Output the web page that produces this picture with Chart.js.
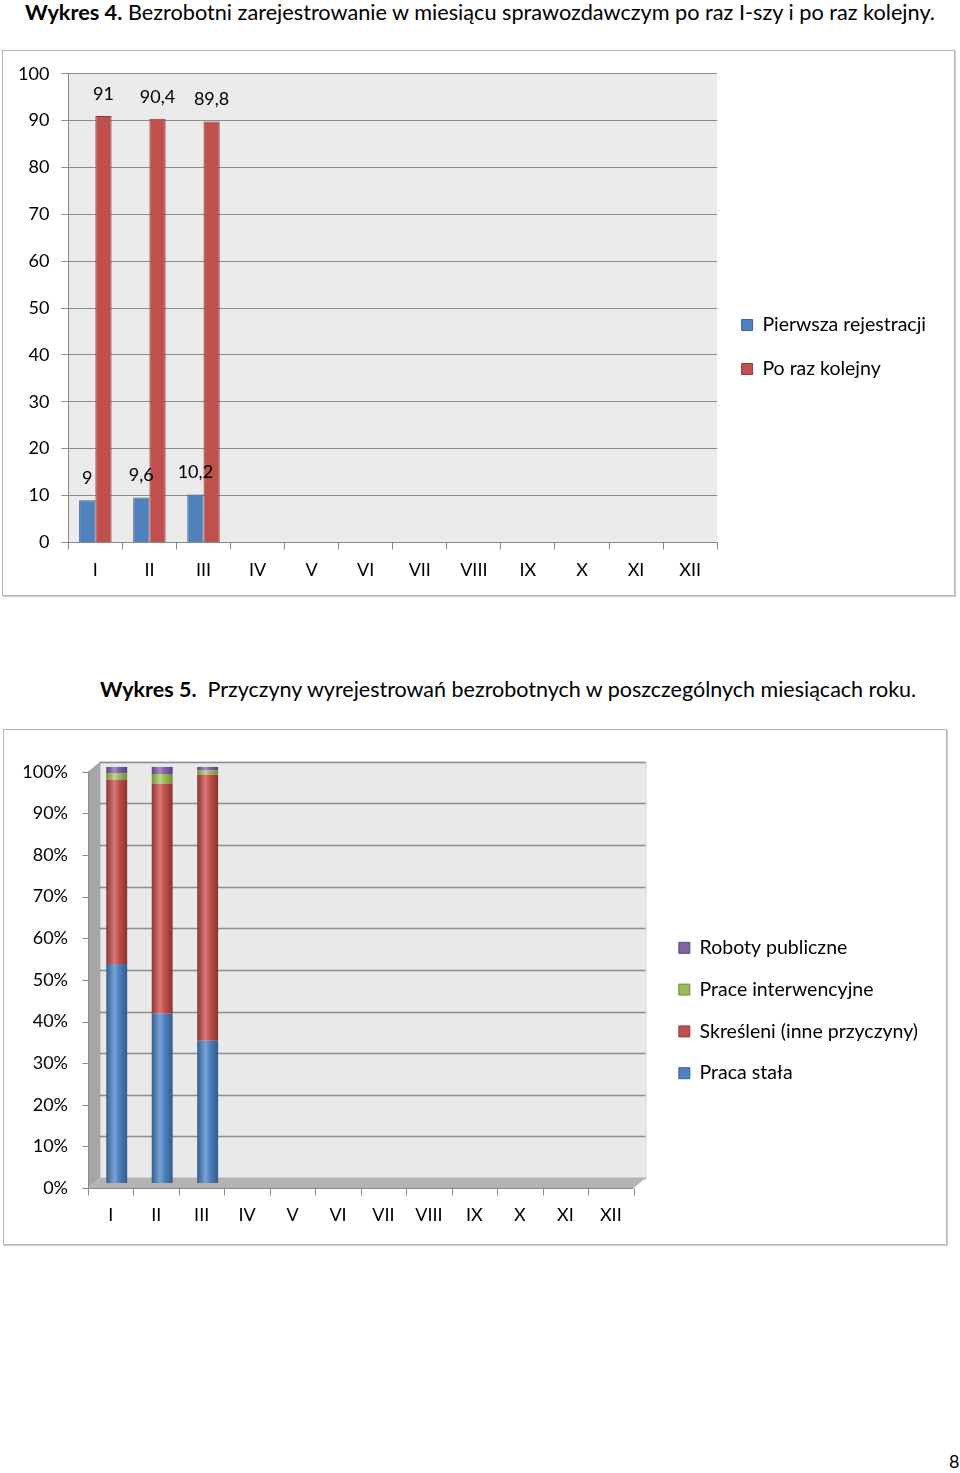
<!DOCTYPE html>
<html>
<head>
<meta charset="utf-8">
<script src="https://cdn.jsdelivr.net/npm/chart.js@4.4.1/dist/chart.umd.min.js"></script>
<style>
  body { margin: 0; background: #fff; font-family: Lato, "Liberation Sans", sans-serif; }
  .page { position: relative; width: 960px; height: 1473px; overflow: hidden; }
  .title { position: absolute; font-size: 21.7px; color: #000; white-space: nowrap; }
  .box { position: absolute; border: 1px solid #b4b4b4; box-shadow: 1px 1px 1px #d0d0d0; background: #fff; }
  .box canvas { position: absolute; left: 0; top: 0; }
</style>
</head>
<body>
<div class="page">
  <div class="title" style="left:25px; top:-1px;"><b>Wykres 4.</b> Bezrobotni zarejestrowanie w miesiącu sprawozdawczym po raz I-szy i po raz kolejny.</div>
  <div class="box" style="left:2px; top:50px; width:951px; height:544px;">
    <canvas id="chart1" width="951" height="544"></canvas>
  </div>

  <div class="title" style="left:100px; top:676px; font-size:21.5px;"><b>Wykres 5.</b>&nbsp; Przyczyny wyrejestrowań bezrobotnych w poszczególnych miesiącach roku.</div>
  <div class="box" style="left:3px; top:729px; width:942px; height:514px;">
    <canvas id="chart2" width="942" height="514"></canvas>
  </div>

  <div class="title" style="left:949px; top:1450px; font-size:18px;">8</div>
</div>

<script>
// miesiace
const months = ['I', 'II', 'III', 'IV', 'V', 'VI', 'VII', 'VIII', 'IX', 'X', 'XI', 'XII'];

// wykres 4
const firstReg = [9, 9.6, 10.2, null, null, null, null, null, null, null, null, null];
const nextReg = [91, 90.4, 89.8, null, null, null, null, null, null, null, null, null];
const countTicks = [0, 10, 20, 30, 40, 50, 60, 70, 80, 90, 100];

// wykres 5 (udzial w %)
const pracaStala = [52.6, 40.7, 34.2, null, null, null, null, null, null, null, null, null];
const skresleni = [44.3, 55.2, 63.9, null, null, null, null, null, null, null, null, null];
const interwencyjne = [1.5, 2.4, 1.0, null, null, null, null, null, null, null, null, null];
const roboty = [1.6, 1.7, 0.9, null, null, null, null, null, null, null, null, null];

const FONT = 'Lato, "Liberation Sans", sans-serif';
Chart.defaults.font.family = FONT;
Chart.defaults.font.size = 18;
Chart.defaults.color = '#000';
Chart.defaults.animation = false;

// szare tlo obszaru wykresu
const plotBg = {
  id: 'plotBg',
  beforeDraw(chart) {
    const a = chart.chartArea, ctx = chart.ctx;
    ctx.save();
    ctx.fillStyle = '#ebebeb';
    ctx.fillRect(a.left, a.top, a.right - a.left, a.bottom - a.top);
    ctx.restore();
  }
};

// etykiety wartosci nad slupkami
const valueLabels = {
  id: 'valueLabels',
  afterDatasetsDraw(chart) {
    const ctx = chart.ctx;
    ctx.save();
    ctx.font = '18px ' + FONT;
    ctx.fillStyle = '#000';
    ctx.textAlign = 'center';
    ctx.textBaseline = 'middle';
    chart.data.datasets.forEach((ds, i) => {
      chart.getDatasetMeta(i).data.forEach((el, j) => {
        if (ds.data[j] == null) return;
        ctx.fillText(String(ds.data[j]).replace('.', ','), el.x, el.y - 22);
      });
    });
    ctx.restore();
  }
};

// sciany 3D wykresu 5 (chartArea = srodek glebokosci)
const D = { x: 6, y: 5 };
const walls3d = {
  id: 'walls3d',
  beforeDraw(chart) {
    const a = chart.chartArea, ctx = chart.ctx, y = chart.scales.y;
    ctx.save();
    // tylna sciana
    ctx.fillStyle = '#e9e9e9';
    ctx.fillRect(a.left + D.x, a.top - D.y, a.right - a.left, a.bottom - a.top);
    ctx.strokeStyle = '#cfcfcf';
    ctx.strokeRect(a.left + D.x + 0.5, a.top - D.y + 0.5, a.right - a.left, a.bottom - a.top);
    ctx.strokeStyle = '#8c8c8c';
    ctx.lineWidth = 1.5;
    y.ticks.forEach(t => {
      const py = Math.round(y.getPixelForValue(t.value) - D.y) + 0.5;
      ctx.beginPath();
      ctx.moveTo(a.left + D.x, py);
      ctx.lineTo(a.right + D.x, py);
      ctx.stroke();
    });
    // boczna sciana
    ctx.fillStyle = '#a6a6a6';
    ctx.beginPath();
    ctx.moveTo(a.left - D.x, a.top + D.y);
    ctx.lineTo(a.left + D.x, a.top - D.y);
    ctx.lineTo(a.left + D.x, a.bottom - D.y);
    ctx.lineTo(a.left - D.x, a.bottom + D.y);
    ctx.closePath();
    ctx.fill();
    // podloga
    ctx.fillStyle = '#b3b3b3';
    ctx.beginPath();
    ctx.moveTo(a.left - D.x, a.bottom + D.y);
    ctx.lineTo(a.left + D.x, a.bottom - D.y);
    ctx.lineTo(a.right + D.x, a.bottom - D.y);
    ctx.lineTo(a.right - D.x, a.bottom + D.y);
    ctx.closePath();
    ctx.fill();
    ctx.restore();
  },
  afterDraw(chart) {
    // przednie osie z kreskami
    const a = chart.chartArea, ctx = chart.ctx, y = chart.scales.y, x = chart.scales.x;
    const fx = Math.round(a.left - D.x) + 0.5, fy = Math.round(a.bottom + D.y) + 0.5;
    ctx.save();
    ctx.strokeStyle = '#8c8c8c';
    ctx.lineWidth = 1;
    ctx.beginPath();
    ctx.moveTo(fx, a.top + D.y);
    ctx.lineTo(fx, fy);
    ctx.lineTo(a.right - D.x, fy);
    y.ticks.forEach(t => {
      const py = Math.round(y.getPixelForValue(t.value) + D.y) + 0.5;
      ctx.moveTo(fx - 6, py);
      ctx.lineTo(fx, py);
    });
    for (let i = 0; i <= months.length; i++) {
      const px = Math.round(x.getPixelForValue(i - 0.5) - D.x) + 0.5;
      ctx.moveTo(px, fy);
      ctx.lineTo(px, fy + 7);
    }
    ctx.stroke();
    ctx.restore();
  }
};

function cylinder(base, dark, light) {
  return (c) => {
    const chart = c.chart;
    if (!chart.chartArea || !chart.scales.x) return base;
    const cx = chart.scales.x.getPixelForValue(c.dataIndex);
    const g = chart.ctx.createLinearGradient(cx - 11, 0, cx + 11, 0);
    g.addColorStop(0, dark);
    g.addColorStop(0.4, light);
    g.addColorStop(0.6, base);
    g.addColorStop(1, dark);
    return g;
  };
}

// pusty tytul legendy - przesuwa pozycje w dol
function legendShift(h) {
  return { display: true, text: ' ', font: { size: 10 }, padding: { top: h - 12, bottom: 0 } };
}

function draw() {
  new Chart(document.getElementById('chart1'), {
    type: 'bar',
    data: {
      labels: months,
      datasets: [
        { label: 'Pierwsza rejestracji', data: firstReg, backgroundColor: '#4f81bd', borderColor: '#3a6292', borderWidth: 1 },
        { label: 'Po raz kolejny', data: nextReg, backgroundColor: '#c0504d', borderColor: '#8e3a38', borderWidth: 1 }
      ]
    },
    options: {
      responsive: false,
      layout: { padding: { top: 10, right: 18, bottom: 4, left: 3 } },
      datasets: { bar: { categoryPercentage: 0.6, barPercentage: 1 } },
      scales: {
        x: {
          grid: { offset: true, drawOnChartArea: false, color: '#888', tickLength: 7 },
          border: { color: '#888' },
          ticks: { padding: 10 }
        },
        y: {
          min: 0, max: 100,
          afterBuildTicks: (s) => { s.ticks = countTicks.map(v => ({ value: v })); },
          grid: { color: '#8c8c8c', tickLength: 7 },
          border: { color: '#888' },
          ticks: { padding: 12 }
        }
      },
      plugins: {
        legend: {
          position: 'right',
          maxWidth: 300,
          title: legendShift(42),
          labels: { boxWidth: 11, boxHeight: 11, padding: 24.5, font: { size: 19.5 } }
        },
        tooltip: { enabled: false }
      }
    },
    plugins: [plotBg, valueLabels]
  });

  new Chart(document.getElementById('chart2'), {
    type: 'bar',
    data: {
      labels: months,
      datasets: [
        { label: 'Praca stała', data: pracaStala, backgroundColor: cylinder('#4f81bd', '#2f5a8c', '#7aa3d6') },
        { label: 'Skreśleni (inne przyczyny)', data: skresleni, backgroundColor: cylinder('#c0504d', '#8a302e', '#d97a77') },
        { label: 'Prace interwencyjne', data: interwencyjne, backgroundColor: cylinder('#9bbb59', '#6d8a35', '#bcd888') },
        { label: 'Roboty publiczne', data: roboty, backgroundColor: cylinder('#8064a2', '#57407a', '#a48cc4') }
      ]
    },
    options: {
      responsive: false,
      layout: { padding: { top: 35, right: 18, bottom: 18, left: 16 } },
      datasets: { bar: { categoryPercentage: 0.46, barPercentage: 1 } },
      scales: {
        x: {
          stacked: true,
          grid: { display: false, drawTicks: false },
          border: { display: false },
          ticks: { padding: 21, labelOffset: -D.x },
          afterFit: (s) => { s.height = 43; }
        },
        y: {
          stacked: true,
          min: 0, max: 100,
          afterBuildTicks: (s) => { s.ticks = countTicks.map(v => ({ value: v })); },
          grid: { display: false, drawTicks: false },
          border: { display: false },
          ticks: { padding: 26, labelOffset: D.y, callback: (v) => v + '%' },
          afterFit: (s) => { s.width = 74; }
        },
        gap: {
          type: 'linear', position: 'right',
          grid: { display: false, drawTicks: false }, border: { display: false }, ticks: { display: false },
          afterFit: (s) => { s.width = 17; }
        }
      },
      plugins: {
        legend: {
          position: 'right',
          reverse: true,
          maxWidth: 320,
          title: legendShift(30),
          labels: {
            boxWidth: 11, boxHeight: 11, padding: 22.3, font: { size: 19.5 },
            generateLabels: (chart) => chart.data.datasets.map((ds, i) => ({
              text: ds.label,
              fillStyle: ['#4f81bd', '#c0504d', '#9bbb59', '#8064a2'][i],
              strokeStyle: ['#3a6292', '#8e3a38', '#718c3e', '#5c4878'][i],
              lineWidth: 1,
              datasetIndex: i
            }))
          }
        },
        tooltip: { enabled: false }
      }
    },
    plugins: [walls3d]
  });
}

document.fonts.load('18px Lato').then(draw, draw);
</script>
</body>
</html>
